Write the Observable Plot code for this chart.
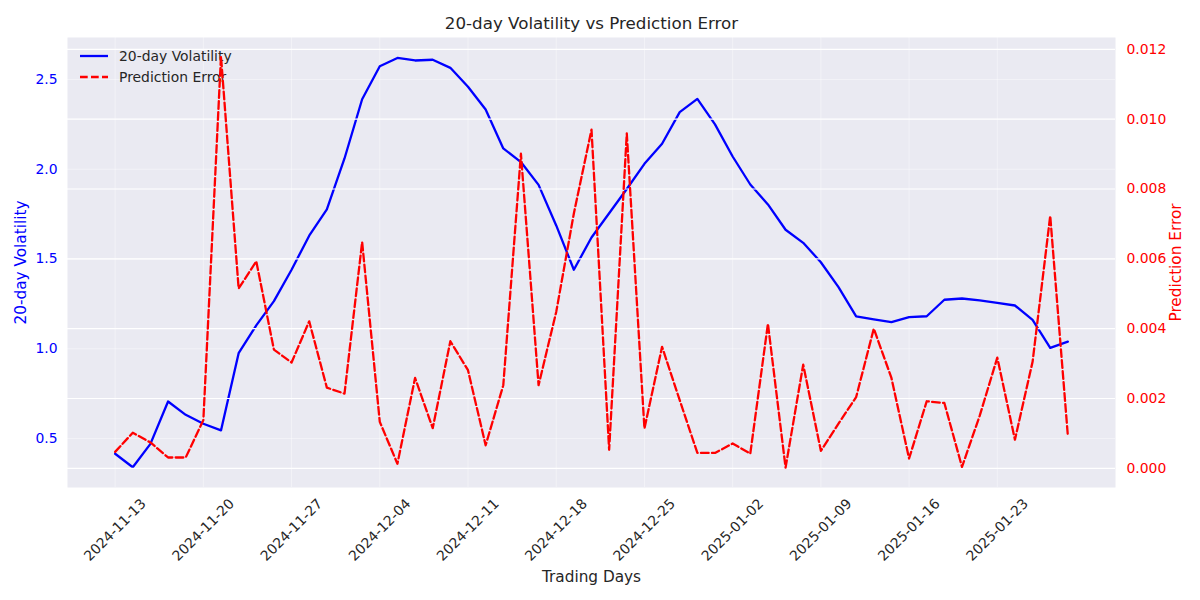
<!DOCTYPE html>
<html>
<head>
<meta charset="utf-8">
<script src="https://cdn.jsdelivr.net/npm/d3@7"></script>
<script src="https://cdn.jsdelivr.net/npm/@observablehq/plot@0.6"></script>
<style>
  html, body { margin: 0; padding: 0; background: #ffffff; }
  #chart svg { display: block; }
</style>
</head>
<body>
<div id="chart"></div>
<script>
// ---- Data ----
const volatility = [
  0.415, 0.34, 0.47, 0.706, 0.632, 0.582, 0.545, 0.975, 1.13, 1.265,
  1.44, 1.63, 1.776, 2.06, 2.39, 2.574, 2.62, 2.606, 2.61, 2.565,
  2.46, 2.333, 2.116, 2.04, 1.913, 1.687, 1.44, 1.62, 1.755, 1.89,
  2.03, 2.142, 2.318, 2.392, 2.25, 2.071, 1.915, 1.804, 1.663, 1.59,
  1.482, 1.343, 1.18, 1.163, 1.148, 1.176, 1.181, 1.273, 1.28, 1.269,
  1.256, 1.241, 1.161, 1.005, 1.04
];
const predictionError = [
  0.00047, 0.00102, 0.00074, 0.00031, 0.00031, 0.00138, 0.0118, 0.00515, 0.00593, 0.0034,
  0.00303, 0.00421, 0.00231, 0.00214, 0.00648, 0.00133, 0.00013, 0.00259, 0.00115, 0.00364,
  0.00281, 0.00066, 0.00238, 0.00901, 0.00238, 0.00448, 0.0073, 0.0097, 0.00053, 0.00959,
  0.00114, 0.00348, 0.00195, 0.00044, 0.00044, 0.00071, 0.00042, 0.00414, 0.00002, 0.00297,
  0.0005, 0.00128, 0.00204, 0.004, 0.00259, 0.00028, 0.00192, 0.00187, 0.00004, 0.0015,
  0.00317, 0.00082, 0.00305, 0.00723, 0.00093
];
const xTickIndex = [0, 5, 10, 15, 20, 25, 30, 35, 40, 45, 50];
const xTickLabels = ["2024-11-13", "2024-11-20", "2024-11-27", "2024-12-04", "2024-12-11",
  "2024-12-18", "2024-12-25", "2025-01-02", "2025-01-09", "2025-01-16", "2025-01-23"];
const leftTicks = [0.5, 1.0, 1.5, 2.0, 2.5];
const rightTicks = [0.000, 0.002, 0.004, 0.006, 0.008, 0.010, 0.012];
const seriesNames = ["20-day Volatility", "Prediction Error"];

// ---- Scales setup ----
const leftDomain = [0.227, 2.734];
const rightDomain = [-0.00055, 0.01234];
const toLeft = d3.scaleLinear().domain(rightDomain).range(leftDomain);

const rows = volatility.map((v, i) => ({i, vol: v, err: predictionError[i]}));

const font = "DejaVu Sans, Liberation Sans, sans-serif";
const textColor = "#262626";
const lw = 2.3;
const dash = "7.7,3.3";

const legendMark = (index, scales, values, dims) => {
  const g = d3.create("svg:g").attr("font-family", font).attr("font-size", 13.9)
    .attr("text-anchor", "start");
  const items = [
    {label: seriesNames[0], color: "blue", dash: null},
    {label: seriesNames[1], color: "red", dash: dash}
  ];
  items.forEach((it, k) => {
    const y = dims.marginTop + 19 + k * 21;
    const x0 = dims.marginLeft + 13;
    g.append("line")
      .attr("x1", x0).attr("x2", x0 + 28).attr("y1", y).attr("y2", y)
      .attr("stroke", it.color).attr("stroke-width", lw)
      .attr("stroke-dasharray", it.dash);
    g.append("text")
      .attr("x", x0 + 39).attr("y", y).attr("dy", "0.35em")
      .attr("text-anchor", "start")
      .attr("fill", textColor).text(it.label);
  });
  return g.node();
};

const chart = Plot.plot({
  width: 1200,
  height: 600,
  marginTop: 37,
  marginBottom: 113,
  marginLeft: 67,
  marginRight: 85,
  style: {fontFamily: font, background: "#ffffff"},
  x: {type: "linear", domain: [-2.7, 56.7], axis: null},
  y: {type: "linear", domain: leftDomain, axis: null},
  marks: [
    Plot.frame({fill: "#EAEAF2", stroke: null}),
    // faint grid (left axis + x)
    Plot.ruleX(xTickIndex, {stroke: "#ffffff", strokeOpacity: 0.4, strokeWidth: 1}),
    Plot.ruleY(leftTicks, {stroke: "#ffffff", strokeOpacity: 0.4, strokeWidth: 1}),
    // volatility line
    Plot.line(rows, {x: "i", y: "vol", stroke: "blue", strokeWidth: lw, strokeLinejoin: "round"}),
    // right-axis grid, drawn above the blue line as in the reference
    Plot.ruleY(rightTicks, {y: d => toLeft(d), stroke: "#ffffff", strokeWidth: 1.2}),
    legendMark,
    // prediction error line
    Plot.line(rows, {x: "i", y: d => toLeft(d.err), stroke: "red", strokeWidth: lw,
      strokeDasharray: dash, strokeLinejoin: "round"}),
    // left tick labels
    Plot.text(leftTicks, {y: d => d, text: d => d3.format(".1f")(d), frameAnchor: "left",
      textAnchor: "end", dx: -10, fill: "blue", fontSize: 13.9, lineAnchor: "middle"}),
    // right tick labels
    Plot.text(rightTicks, {y: d => toLeft(d), text: d => d3.format(".3f")(d), frameAnchor: "right",
      textAnchor: "start", dx: 11, fill: "red", fontSize: 13.9, lineAnchor: "middle"}),
    // x tick labels (rotated 45°, centred under tick)
    Plot.text(xTickIndex, {x: d => d, text: (d, k) => xTickLabels[k], frameAnchor: "bottom",
      dy: 42.5, rotate: -45, textAnchor: "middle", lineAnchor: "middle", fill: textColor, fontSize: 13.9}),
    // axis labels & title
    Plot.text([seriesNames[0]], {frameAnchor: "left", dx: -46, rotate: -90, fill: "blue",
      fontSize: 15.3, textAnchor: "middle", lineAnchor: "middle"}),
    Plot.text([seriesNames[1]], {frameAnchor: "right", dx: 61, rotate: -90, fill: "red",
      fontSize: 15.3, textAnchor: "middle", lineAnchor: "middle"}),
    Plot.text(["Trading Days"], {frameAnchor: "bottom", dy: 90, fill: textColor,
      fontSize: 15.3, textAnchor: "middle", lineAnchor: "middle"}),
    Plot.text(["20-day Volatility vs Prediction Error"], {frameAnchor: "top", dy: -14, fill: textColor,
      fontSize: 16.7, textAnchor: "middle", lineAnchor: "middle"})
  ]
});

document.getElementById("chart").appendChild(chart);
</script>
</body>
</html>
